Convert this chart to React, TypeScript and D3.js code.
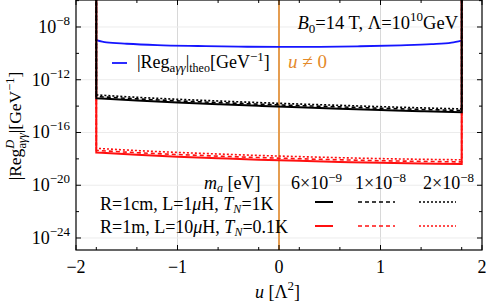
import React from "react";
import * as d3 from "d3";

const W = 488, H = 305;
const uGrid = [-1.8, -1.4, -1.0, -0.6, -0.2, 0.2, 0.6, 1.0, 1.4, 1.8];
// log10 values
const blackSolid = [-13.40, -13.58, -13.73, -13.86, -13.98, -14.09, -14.19, -14.29, -14.38, -14.46];
const blackDashed = [-13.27, -13.45, -13.60, -13.73, -13.85, -13.96, -14.06, -14.16, -14.25, -14.33];
const blackDotted = [-13.15, -13.33, -13.48, -13.61, -13.73, -13.84, -13.94, -14.04, -14.13, -14.21];
const redSolid = [-17.52, -17.69, -17.83, -17.95, -18.06, -18.15, -18.23, -18.30, -18.35, -18.39];
const redDashed = [-17.36, -17.53, -17.67, -17.79, -17.90, -17.99, -18.07, -18.14, -18.19, -18.23];
const redDotted = [-17.20, -17.37, -17.51, -17.63, -17.74, -17.83, -17.91, -17.98, -18.03, -18.07];
const blueU = [-1.8, -1.7, -1.5, -1.2, -0.8, -0.4, 0, 0.4, 0.8, 1.2, 1.5, 1.7, 1.8];
const blueLog = [-8.99, -9.17, -9.27, -9.37, -9.44, -9.49, -9.51, -9.50, -9.46, -9.39, -9.30, -9.18, -9.03];
const xMajor = [-2, -1, 0, 1, 2];
const xMinor = [-1.8, -1.4, -0.6, -0.2, 0.2, 0.6, 1.4, 1.8];
const yMajorExp = [-8, -12, -16, -20, -24];
const yMinorExp = [-6, -10, -14, -18, -22];
const massLabels = [["6×10", "−9"], ["1×10", "−8"], ["2×10", "−8"]];

const L = 76, R = 482, T = 0, B = 250;
const x = d3.scaleLinear().domain([-2, 2]).range([L, R]);
const y = d3.scaleLog().domain([Math.pow(10, -24.91), Math.pow(10, -5.953)]).range([B, T]);

const FONT = "Liberation Serif, Times New Roman, DejaVu Serif, serif";
const ORANGE = "#e48a2a";
const BLUE = "#1515ff";
const RED = "#ff1010";

function boxPath(vals: number[]) {
  const pts: [number, number][] = uGrid.map((u, i) => [x(u), y(Math.pow(10, vals[i]))]);
  const line = d3.line().curve(d3.curveMonotoneX)(pts) as string;
  return `M${x(-1.8)},${T - 5}L${pts[0][0]},${pts[0][1]}` + line.replace(/^M[^CL]*/, "") + `L${x(1.8)},${T - 5}`;
}

const dashStyles = ["none", "4,3", "2,2"];

export default function App() {
  const blueLine = d3.line<number>()
    .x((_, i) => x(blueU[i]))
    .y((d) => y(Math.pow(10, d)))
    .curve(d3.curveMonotoneX)(blueLog) as string;
  const series = [
    { v: redDotted, c: RED, d: dashStyles[2] },
    { v: redDashed, c: RED, d: dashStyles[1] },
    { v: redSolid, c: RED, d: dashStyles[0] },
    { v: blackDotted, c: "#000", d: dashStyles[2] },
    { v: blackDashed, c: "#000", d: dashStyles[1] },
    { v: blackSolid, c: "#000", d: dashStyles[0] },
  ];
  return (
    <div style={{ position: "fixed", left: 0, top: 0 }}>
      <svg width={W} height={H} style={{ display: "block", background: "#fff", fontFamily: FONT }}>
        <defs>
          <clipPath id="plot"><rect x={L} y={T} width={R - L} height={B - T} /></clipPath>
        </defs>
        {[-1, 0, 1].map((u) => (
          <line key={"gx" + u} x1={x(u)} x2={x(u)} y1={T} y2={B} stroke="#d8d8d8" strokeWidth={1} />
        ))}
        {yMajorExp.map((e) => (
          <line key={"gy" + e} x1={L} x2={R} y1={y(Math.pow(10, e))} y2={y(Math.pow(10, e))} stroke="#ececec" strokeWidth={1} />
        ))}
        <g clipPath="url(#plot)">
          <line x1={x(0)} x2={x(0)} y1={T} y2={B} stroke={ORANGE} strokeWidth={1.6} />
          <path d={blueLine} fill="none" stroke={BLUE} strokeWidth={1.8} />
          {series.map((s, i) => (
            <path key={i} d={boxPath(s.v)} fill="none" stroke={s.c} strokeWidth={s.d === "none" ? 2 : 1.6}
              strokeDasharray={s.d === "none" ? undefined : s.d} />
          ))}
        </g>
        <rect x={L} y={T} width={R - L} height={B - T} fill="none" stroke="#000" strokeWidth={1.2} />
        {xMajor.map((u) => (
          <g key={"xt" + u}>
            <line x1={x(u)} x2={x(u)} y1={B} y2={B - 5} stroke="#000" />
            <line x1={x(u)} x2={x(u)} y1={T} y2={T + 5} stroke="#000" />
            <text x={x(u)} y={273} textAnchor="middle" fontSize={18}>{u < 0 ? "−" + Math.abs(u) : String(u)}</text>
          </g>
        ))}
        {xMinor.map((u) => (
          <g key={"xm" + u}>
            <line x1={x(u)} x2={x(u)} y1={B} y2={B - 3} stroke="#000" />
            <line x1={x(u)} x2={x(u)} y1={T} y2={T + 3} stroke="#000" />
          </g>
        ))}
        {yMajorExp.map((e) => {
          const yy = y(Math.pow(10, e));
          return (
            <g key={"yt" + e}>
              <line x1={L} x2={L + 5} y1={yy} y2={yy} stroke="#000" />
              <line x1={R} x2={R - 5} y1={yy} y2={yy} stroke="#000" />
              <text x={70} y={yy + 6} textAnchor="end" fontSize={18}>
                10<tspan dy={-8} fontSize={13}>{"−" + Math.abs(e)}</tspan>
              </text>
            </g>
          );
        })}
        {yMinorExp.map((e) => {
          const yy = y(Math.pow(10, e));
          return (
            <g key={"ym" + e}>
              <line x1={L} x2={L + 3} y1={yy} y2={yy} stroke="#000" />
              <line x1={R} x2={R - 3} y1={yy} y2={yy} stroke="#000" />
            </g>
          );
        })}
        <text x={255} y={298} fontSize={18}>
          <tspan fontStyle="italic">u</tspan> [Λ<tspan dy={-8} fontSize={13}>2</tspan><tspan dy={8}>]</tspan>
        </text>
        <text transform="translate(21,126) rotate(-90)" textAnchor="middle" fontSize={17.5}>
          |Reg<tspan dy={-7} fontSize={12.5} fontStyle="italic">D</tspan>
          <tspan dx={-9} dy={12} fontSize={12.5}>a<tspan fontStyle="italic">γγ</tspan></tspan>
          <tspan dy={-5}>|[GeV</tspan><tspan dy={-7} fontSize={12.5}>−1</tspan><tspan dy={7}>]</tspan>
        </text>
        <text x={458} y={29} textAnchor="end" fontSize={18.5}>
          <tspan fontStyle="italic">B</tspan><tspan dy={4} fontSize={13}>0</tspan>
          <tspan dy={-4}>=14 T, Λ=10</tspan><tspan dy={-8} fontSize={13}>10</tspan><tspan dy={8}>GeV</tspan>
        </text>
        <text x={288} y={68} fontSize={19} fill={ORANGE}>
          <tspan fontStyle="italic">u</tspan> ≠ 0
        </text>
        <line x1={112} x2={127} y1={63} y2={63} stroke={BLUE} strokeWidth={1.8} />
        <text x={137} y={68} fontSize={18}>
          |Reg<tspan dy={4} fontSize={13}>a<tspan fontStyle="italic">γγ</tspan></tspan>
          <tspan dy={-4}>|</tspan><tspan dy={4} fontSize={12}>theo</tspan>
          <tspan dy={-4}>[GeV</tspan><tspan dy={-7} fontSize={13}>−1</tspan><tspan dy={7}>]</tspan>
        </text>
        <text x={204} y={189} fontSize={18}>
          <tspan fontStyle="italic">m</tspan><tspan dy={3} fontSize={12} fontStyle="italic">a</tspan>
          <tspan dy={-3}> [eV]</tspan>
        </text>
        {massLabels.map((m, i) => (
          <text key={"ml" + i} x={[291, 355, 423][i]} y={189} fontSize={18}>
            {m[0]}<tspan dy={-7} fontSize={13}>{m[1]}</tspan>
          </text>
        ))}
        <text x={100} y={210} fontSize={18}>
          R=1cm, L=1<tspan fontStyle="italic">μ</tspan>H, <tspan fontStyle="italic">T</tspan>
          <tspan dy={3} fontSize={12} fontStyle="italic">N</tspan><tspan dy={-3}>=1K</tspan>
        </text>
        <text x={100} y={233} fontSize={18}>
          R=1m, L=10<tspan fontStyle="italic">μ</tspan>H, <tspan fontStyle="italic">T</tspan>
          <tspan dy={3} fontSize={12} fontStyle="italic">N</tspan><tspan dy={-3}>=0.1K</tspan>
        </text>
        {["#000", RED].map((c, r) => (
          <g key={"lg" + r}>
            <line x1={315} x2={333} y1={[202, 226][r]} y2={[202, 226][r]} stroke={c} strokeWidth={2} />
            <line x1={358} x2={395} y1={[202, 226][r]} y2={[202, 226][r]} stroke={c} strokeWidth={1.6} strokeDasharray="4,3" />
            <line x1={419} x2={456} y1={[202, 226][r]} y2={[202, 226][r]} stroke={c} strokeWidth={1.6} strokeDasharray="2,2" />
          </g>
        ))}
      </svg>
    </div>
  );
}
